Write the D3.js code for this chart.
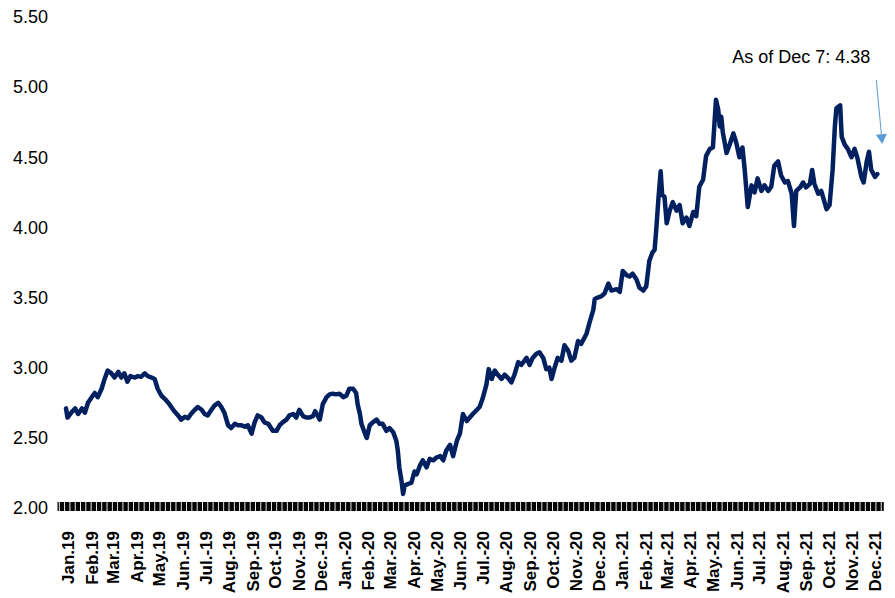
<!DOCTYPE html>
<html>
<head>
<meta charset="utf-8">
<script src="https://cdn.jsdelivr.net/npm/d3@7"></script>
<style>
  html, body { margin: 0; padding: 0; background: #fff; }
  svg { display: block; font-family: "Liberation Sans", Arial, sans-serif; }
</style>
</head>
<body>
<svg id="chart" width="895" height="598"></svg>
<script>
// Observation dates and yields
const dates = [
  "2019-01-01","2019-01-03","2019-01-08","2019-01-13","2019-01-17","2019-01-22","2019-01-26","2019-01-30",
  "2019-02-04","2019-02-08","2019-02-12","2019-02-17","2019-02-21","2019-02-25","2019-03-02","2019-03-06",
  "2019-03-11","2019-03-15","2019-03-19","2019-03-23","2019-03-27","2019-04-02","2019-04-06","2019-04-10",
  "2019-04-15","2019-04-19","2019-04-24","2019-04-28","2019-05-02","2019-05-07","2019-05-11","2019-05-16",
  "2019-05-20","2019-05-24","2019-05-29","2019-06-02","2019-06-07","2019-06-11","2019-06-15","2019-06-20",
  "2019-06-24","2019-06-29","2019-07-03","2019-07-07","2019-07-12","2019-07-16","2019-07-21","2019-07-25",
  "2019-07-29","2019-08-03","2019-08-07","2019-08-12","2019-08-16","2019-08-20","2019-08-25","2019-08-29",
  "2019-09-03","2019-09-07","2019-09-11","2019-09-16","2019-09-20","2019-09-25","2019-10-01","2019-10-06",
  "2019-10-10","2019-10-14","2019-10-19","2019-10-23","2019-10-28","2019-11-01","2019-11-05","2019-11-10",
  "2019-11-14","2019-11-18","2019-11-23","2019-11-26","2019-12-02","2019-12-06","2019-12-11","2019-12-15",
  "2019-12-19","2019-12-24","2019-12-28",
  "2020-01-02","2020-01-06","2020-01-10","2020-01-15","2020-01-19","2020-01-21","2020-01-24","2020-01-26",
  "2020-01-30","2020-02-02","2020-02-06","2020-02-10","2020-02-15","2020-02-19","2020-02-23","2020-02-28",
  "2020-03-03","2020-03-08","2020-03-12","2020-03-14","2020-03-16","2020-03-19","2020-03-21","2020-03-23",
  "2020-03-27","2020-04-01","2020-04-05","2020-04-08","2020-04-12","2020-04-16","2020-04-21","2020-04-25",
  "2020-04-30","2020-05-04","2020-05-09","2020-05-13","2020-05-17","2020-05-22","2020-05-26","2020-05-31",
  "2020-06-04","2020-06-08","2020-06-13","2020-06-17","2020-06-21","2020-06-30","2020-07-04","2020-07-09",
  "2020-07-12","2020-07-16","2020-07-20","2020-07-24","2020-07-29","2020-08-02","2020-08-06","2020-08-11",
  "2020-08-15","2020-08-20","2020-08-24","2020-08-31","2020-09-04","2020-09-08","2020-09-13","2020-09-17",
  "2020-09-22","2020-09-26","2020-09-30","2020-10-03","2020-10-07","2020-10-11","2020-10-16","2020-10-20",
  "2020-10-25","2020-10-29","2020-11-02","2020-11-07","2020-11-11","2020-11-18","2020-11-22","2020-11-27",
  "2020-11-29","2020-12-03","2020-12-08","2020-12-12","2020-12-17","2020-12-21","2020-12-28",
  "2021-01-01","2021-01-05","2021-01-10","2021-01-14","2021-01-18","2021-01-23","2021-01-27","2021-02-01",
  "2021-02-05","2021-02-09","2021-02-13","2021-02-16","2021-02-18","2021-02-21","2021-02-24","2021-02-26",
  "2021-03-01","2021-03-04","2021-03-08","2021-03-12","2021-03-17","2021-03-21","2021-03-25","2021-03-30",
  "2021-04-03","2021-04-08","2021-04-12","2021-04-16","2021-04-21","2021-04-25","2021-04-30","2021-05-04",
  "2021-05-08","2021-05-11","2021-05-13","2021-05-15","2021-05-17","2021-05-22","2021-05-26","2021-05-31",
  "2021-06-04","2021-06-08","2021-06-12","2021-06-15","2021-06-19","2021-06-24","2021-06-28","2021-07-02",
  "2021-07-07","2021-07-11","2021-07-16","2021-07-20","2021-07-24","2021-07-29","2021-08-02","2021-08-07",
  "2021-08-11","2021-08-16","2021-08-19","2021-08-22","2021-08-27","2021-08-31","2021-09-04","2021-09-09",
  "2021-09-12","2021-09-15","2021-09-20","2021-09-24","2021-10-01","2021-10-05","2021-10-09","2021-10-12",
  "2021-10-14","2021-10-19","2021-10-21","2021-10-25","2021-10-29","2021-11-03","2021-11-07","2021-11-11",
  "2021-11-16","2021-11-19","2021-11-23","2021-11-26","2021-11-29","2021-12-04","2021-12-07"
];

const values = [
  2.71,2.645,2.68,2.71,2.67,2.71,2.68,2.75,
  2.79,2.82,2.79,2.85,2.92,2.98,2.96,2.93,
  2.97,2.93,2.96,2.90,2.94,2.93,2.94,2.935,
  2.96,2.94,2.93,2.92,2.85,2.80,2.78,2.75,
  2.72,2.69,2.66,2.63,2.65,2.64,2.67,2.70,
  2.72,2.70,2.67,2.66,2.70,2.73,2.75,2.72,
  2.68,2.59,2.57,2.60,2.59,2.59,2.58,2.59,
  2.53,2.61,2.66,2.645,2.61,2.60,2.55,2.55,
  2.59,2.61,2.63,2.66,2.67,2.645,2.70,2.655,
  2.645,2.645,2.655,2.69,2.63,2.74,2.79,2.81,
  2.815,2.81,2.815,
  2.79,2.80,2.85,2.85,2.82,2.74,2.67,2.60,
  2.54,2.50,2.59,2.61,2.63,2.60,2.60,2.55,
  2.57,2.54,2.48,2.41,2.29,2.19,2.10,2.16,
  2.17,2.18,2.26,2.24,2.30,2.34,2.29,2.35,
  2.34,2.36,2.37,2.34,2.41,2.45,2.37,2.48,
  2.53,2.67,2.62,2.645,2.67,2.72,2.78,2.88,
  2.99,2.92,2.98,2.95,2.92,2.95,2.93,2.895,
  2.95,3.04,3.02,3.07,3.02,3.07,3.10,3.11,
  3.07,2.99,3.00,2.92,3.00,3.07,3.05,3.16,
  3.12,3.05,3.07,3.19,3.17,3.24,3.32,3.41,
  3.49,3.50,3.51,3.53,3.60,3.55,3.56,
  3.54,3.69,3.66,3.65,3.67,3.63,3.57,3.55,
  3.58,3.76,3.82,3.84,3.97,4.20,4.40,4.23,
  4.22,4.03,4.12,4.18,4.12,4.16,4.03,4.07,
  4.01,4.11,4.08,4.29,4.34,4.51,4.56,4.57,
  4.91,4.84,4.72,4.79,4.68,4.53,4.59,4.67,
  4.60,4.50,4.57,4.41,4.145,4.30,4.25,4.35,
  4.26,4.30,4.26,4.29,4.44,4.47,4.37,4.32,
  4.33,4.24,4.01,4.26,4.285,4.32,4.285,4.31,
  4.41,4.31,4.24,4.26,4.13,4.16,4.41,4.72,
  4.85,4.87,4.645,4.59,4.56,4.50,4.56,4.49,
  4.36,4.32,4.47,4.54,4.41,4.36,4.38
];

const yTicks = [2.0, 2.5, 3.0, 3.5, 4.0, 4.5, 5.0, 5.5];

const monthLabels = [
  "Jan.19","Feb.19","Mar.19","Apr.19","May.19","Jun.-19","Jul.-19","Aug.-19","Sep.-19","Oct.-19","Nov.-19","Dec.-19",
  "Jan.-20","Feb.-20","Mar.-20","Apr.-20","May.-20","Jun.-20","Jul.-20","Aug.-20","Sep.-20","Oct.-20","Nov.-20","Dec.-20",
  "Jan.-21","Feb.-21","Mar.-21","Apr.-21","May.-21","Jun.-21","Jul.-21","Aug.-21","Sep.-21","Oct.-21","Nov.-21","Dec.-21"
];

const noteText = "As of Dec 7: 4.38";
const noteValue = 4.38;

// ---------------------------------------------------------------
const parse = d3.utcParse("%Y-%m-%d");
const series = dates.map((d, i) => ({ date: parse(d), value: values[i] }));
const first = series[0], last = series[series.length - 1];

const svg = d3.select("#chart");
svg.append("rect").attr("width", 895).attr("height", 598).attr("fill", "#fff");

const x = d3.scaleUtc().domain([first.date, last.date]).range([66, 877.3]);
const y = d3.scaleLinear().domain([2, 5.5]).range([508, 17]);

// Dense day ticks along the bottom (business days)
const tickDays = d3.utcDays(d3.utcDay.offset(first.date, -11), d3.utcDay.offset(last.date, 8))
  .filter(d => d.getUTCDay() !== 0 && d.getUTCDay() !== 6);
const dayAxis = svg.append("g")
  .attr("transform", "translate(0,502)")
  .call(d3.axisBottom(x).tickValues(tickDays).tickSize(9).tickFormat(""));
dayAxis.select(".domain").remove();
dayAxis.selectAll(".tick line").attr("stroke", "#000").attr("stroke-width", 1.35);

// Month labels, rotated
const months = d3.utcMonths(first.date, d3.utcDay.offset(last.date, 1));
const monthAxis = svg.append("g")
  .attr("transform", "translate(2,531)")
  .call(d3.axisBottom(x).tickValues(months).tickSize(0).tickFormat((d, i) => monthLabels[i]));
monthAxis.select(".domain").remove();
monthAxis.selectAll(".tick text")
  .attr("transform", "rotate(-90)")
  .attr("x", 0).attr("y", 0).attr("dy", "0.35em")
  .attr("text-anchor", "end")
  .attr("font-size", 17).attr("font-weight", "bold")
  .attr("font-family", "'Liberation Sans', Arial, sans-serif")
  .attr("fill", "#000");

// Y axis labels
const yAxis = svg.append("g")
  .attr("transform", "translate(48,0)")
  .call(d3.axisLeft(y).tickValues(yTicks).tickSize(0).tickPadding(0).tickFormat(d3.format(".2f")));
yAxis.select(".domain").remove();
yAxis.selectAll(".tick text")
  .attr("font-size", 18)
  .attr("font-family", "'Liberation Sans', Arial, sans-serif")
  .attr("fill", "#000");

// Yield line
const line = d3.line().x(d => x(d.date)).y(d => y(d.value));
svg.append("path")
  .datum(series)
  .attr("d", line)
  .attr("fill", "none")
  .attr("stroke", "#002060")
  .attr("stroke-width", 4.5)
  .attr("stroke-linejoin", "round")
  .attr("stroke-linecap", "round");

// Annotation with arrow pointing at the latest value
const lx = x(last.date), ly = y(noteValue);
svg.append("text")
  .attr("x", lx - 7).attr("y", 62.5)
  .attr("text-anchor", "end")
  .attr("font-size", 18)
  .attr("fill", "#000")
  .text(noteText);

const tip = [lx + 5, ly - 30];
const start = [lx - 1, 80];
const len = Math.hypot(tip[0] - start[0], tip[1] - start[1]);
const ux = (tip[0] - start[0]) / len, uy = (tip[1] - start[1]) / len;
const headLen = 10, headHalf = 5.5;
const base = [tip[0] - ux * headLen, tip[1] - uy * headLen];
svg.append("line")
  .attr("x1", start[0]).attr("y1", start[1])
  .attr("x2", base[0]).attr("y2", base[1])
  .attr("stroke", "#5b9bd5").attr("stroke-width", 1);
svg.append("polygon")
  .attr("points", [
    tip,
    [base[0] - uy * headHalf, base[1] + ux * headHalf],
    [base[0] + uy * headHalf, base[1] - ux * headHalf]
  ].map(p => p.join(",")).join(" "))
  .attr("fill", "#5b9bd5");
</script>
</body>
</html>
